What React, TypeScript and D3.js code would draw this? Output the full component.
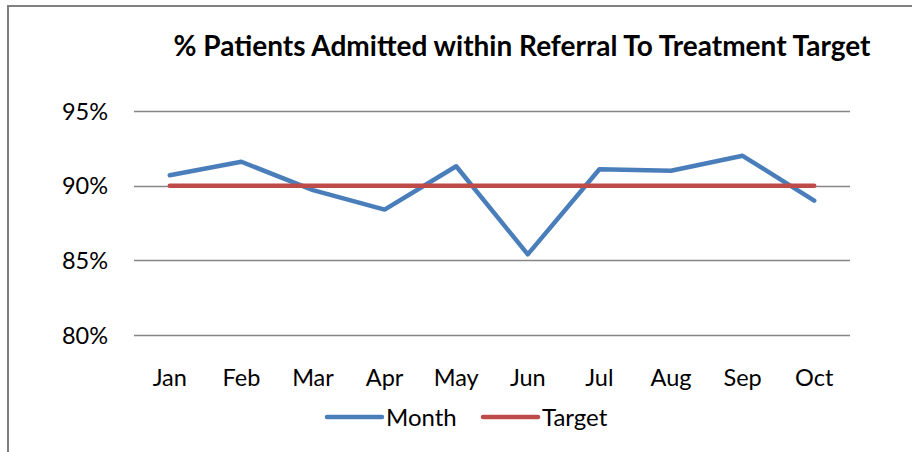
import React, { useEffect, useRef } from "react";
import * as d3 from "d3";

const months = ["Jan", "Feb", "Mar", "Apr", "May", "Jun", "Jul", "Aug", "Sep", "Oct"];
const monthValues = [0.907, 0.916, 0.897, 0.884, 0.913, 0.854, 0.911, 0.910, 0.920, 0.890];
const targetValues = [0.9, 0.9, 0.9, 0.9, 0.9, 0.9, 0.9, 0.9, 0.9, 0.9];
const yTicks = [0.8, 0.85, 0.9, 0.95];
const seriesNames = ["Month", "Target"];

const title = "% Patients Admitted within Referral To Treatment Target";

const App: React.FC = () => {
	const ref = useRef<SVGSVGElement>(null);

	useEffect(() => {
		const svg = d3.select(ref.current);
		svg.selectAll("*").remove();

		const width = 912;
		const height = 452;
		const font = "Lato, 'Open Sans', sans-serif";
		const colors = ["#4a7ebb", "#be4b48"];

		// chart frame (right and bottom edges fall outside the picture)
		svg.append("rect")
			.attr("x", 8)
			.attr("y", 6)
			.attr("width", width + 20)
			.attr("height", height + 20)
			.attr("fill", "white")
			.attr("stroke", "#808080")
			.attr("stroke-width", 2);

		const x = d3.scaleBand<string>()
			.domain(months)
			.range([134, 850]);

		const y = d3.scaleLinear()
			.domain([0.8, 0.95])
			.range([335, 111]);

		const cx = (m: string) => (x(m) as number) + x.bandwidth() / 2;

		svg.append("text")
			.attr("x", 522)
			.attr("y", 56)
			.attr("text-anchor", "middle")
			.attr("font-family", font)
			.attr("font-weight", "bold")
			.attr("font-size", 28)
			.attr("fill", "#000")
			.text(title);

		// gridlines + y labels
		const grid = svg.append("g");
		yTicks.forEach((t) => {
			grid.append("line")
				.attr("x1", 134)
				.attr("x2", 850)
				.attr("y1", Math.round(y(t)) + 0.5)
				.attr("y2", Math.round(y(t)) + 0.5)
				.attr("stroke", "#868686")
				.attr("stroke-width", 1.3);
			grid.append("text")
				.attr("x", 108)
				.attr("y", y(t) + 8.5)
				.attr("text-anchor", "end")
				.attr("font-family", font)
				.attr("font-size", 23.5)
				.attr("fill", "#000")
				.text(d3.format(".0%")(t));
		});

		// x labels
		svg.append("g")
			.selectAll("text")
			.data(months)
			.join("text")
			.attr("x", (d) => cx(d))
			.attr("y", 386)
			.attr("text-anchor", "middle")
			.attr("font-family", font)
			.attr("font-size", 23.5)
			.attr("fill", "#000")
			.text((d) => d);

		const line = d3.line<number>()
			.x((_, i) => cx(months[i]))
			.y((d) => y(d));

		[monthValues, targetValues].forEach((vals, i) => {
			svg.append("path")
				.datum(vals)
				.attr("d", line)
				.attr("fill", "none")
				.attr("stroke", colors[i])
				.attr("stroke-width", 4.5)
				.attr("stroke-linejoin", "round")
				.attr("stroke-linecap", "round");
		});

		// legend
		const legend = svg.append("g").attr("transform", "translate(327,417)");
		const legendX = [0, 156];
		seriesNames.forEach((name, i) => {
			const item = legend.append("g").attr("transform", `translate(${legendX[i]},0)`);
			item.append("line")
				.attr("x1", 0)
				.attr("x2", 55)
				.attr("stroke", colors[i])
				.attr("stroke-width", 4.5)
				.attr("stroke-linecap", "round");
			item.append("text")
				.attr("x", 59)
				.attr("y", 8.5)
				.attr("font-family", font)
				.attr("font-size", 24)
				.attr("fill", "#000")
				.text(name);
		});
	}, []);

	return (
		<svg
			ref={ref}
			width={912}
			height={452}
			style={{ position: "absolute", left: 0, top: 0 }}
		/>
	);
};

export default App;
